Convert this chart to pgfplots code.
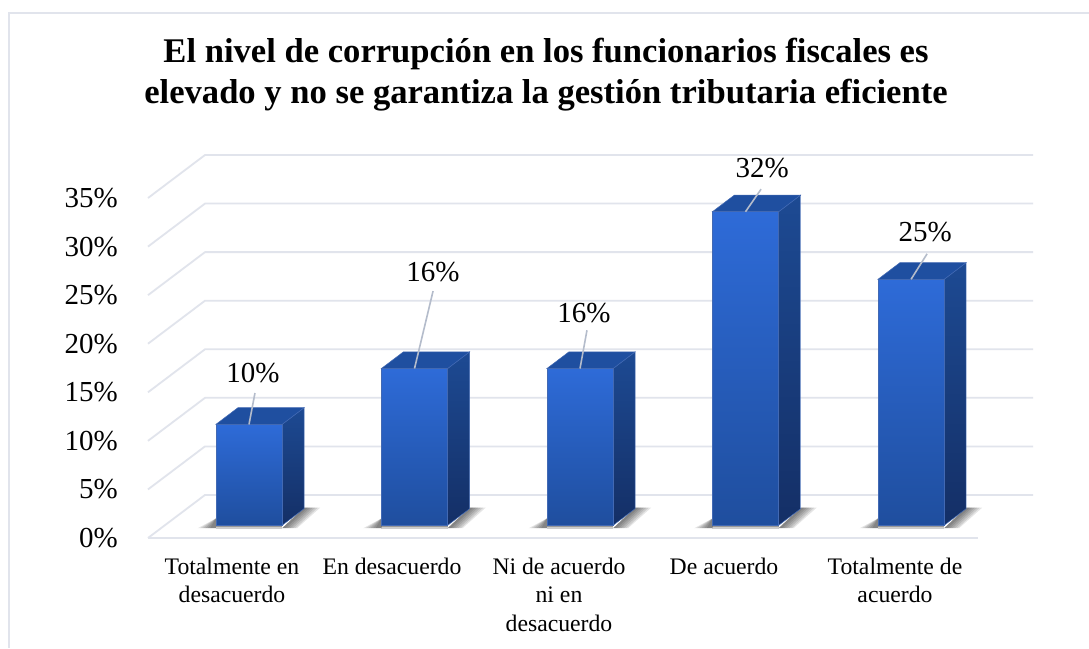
\documentclass[border=0pt]{standalone}
\usepackage{fontspec}
\setmainfont{Liberation Serif}
\usepackage{pgfplots}
\pgfplotsset{compat=1.18}
\definecolor{gridc}{HTML}{E1E4EC}
\definecolor{leader}{HTML}{B4BCCB}
\definecolor{fronttop}{HTML}{2E6BD8}
\definecolor{frontbot}{HTML}{1F4E9E}
\definecolor{sidetop}{HTML}{1D4A93}
\definecolor{sidebot}{HTML}{142F66}
\definecolor{topface}{HTML}{1F4FA0}
\definecolor{edge}{HTML}{4269B3}

% soft floor shadow, one layer: centre, reach to the right at the back, at the front, reach to the left
\newcommand{\shadelayer}[4]{%
  \pgfmathsetmacro\sl{#1-#4}%
  \pgfmathsetmacro\sra{#1+#2}%
  \pgfmathsetmacro\srb{#1+#3}%
  \pgfmathsetmacro\xl{#1-0.2}%
  \pgfmathsetmacro\xr{#1+0.2}%
  \pgfmathsetmacro\xb{#1+0.333}%
  \addplot[draw=none,fill=black,fill opacity=0.1] coordinates {(\xr,-0.3) (\xb,1.8) (\sra,1.8) (\srb,-0.3)} --cycle;
  \addplot[draw=none,fill=black,fill opacity=0.1] coordinates {(\sl,-0.3) (\xl,0.7) (\xl,-0.3)} --cycle;
}
% one 3D column: centre, value
\newcommand{\column}[2]{%
  \shadelayer{#1}{0.43}{0.29}{0.31}%
  \shadelayer{#1}{0.415}{0.28}{0.295}%
  \shadelayer{#1}{0.40}{0.265}{0.28}%
  \shadelayer{#1}{0.385}{0.25}{0.265}%
  \shadelayer{#1}{0.37}{0.235}{0.25}%
  \shadelayer{#1}{0.355}{0.22}{0.235}%
  \pgfmathsetmacro\xl{#1-0.2}%
  \pgfmathsetmacro\xr{#1+0.2}%
  \pgfmathsetmacro\xb{#1+0.333}%
  \pgfmathsetmacro\xal{#1-0.067}%
  \pgfmathsetmacro\vb{#2+1.7}%
  \addplot[draw=none,fill=black,fill opacity=0.2] coordinates {(\xl,-0.4) (\xr,-0.4) (\xr,0.1) (\xl,0.1)} --cycle;
  \addplot[draw=none,fill=black,fill opacity=0.25] coordinates {(\xl,-0.22) (\xr,-0.22) (\xr,0.1) (\xl,0.1)} --cycle;
  \addplot[draw=edge,line width=0.5pt,top color=sidetop,bottom color=sidebot] coordinates {(\xr,0) (\xb,1.7) (\xb,\vb) (\xr,#2)} --cycle;
  \addplot[draw=edge,line width=0.5pt,fill=topface] coordinates {(\xl,#2) (\xr,#2) (\xb,\vb) (\xal,\vb)} --cycle;
  \addplot[ybar,bar width=66pt,bar shift=0pt,draw=edge,line width=0.5pt,top color=fronttop,bottom color=frontbot] coordinates {(#1,#2)};
}
% back wall and side wall line for one tick value
\newcommand{\wall}[1]{%
  \pgfmathsetmacro\vb{#1+4.43}%
  \addplot[gridc,line width=1.8pt,line join=round] coordinates {(148,#1) (205,\vb) (1033,\vb)};
}

\begin{document}
\begin{tikzpicture}
  \useasboundingbox (0,0) rectangle (1089pt,648pt);
  \fill[white] (0,0) rectangle (1089pt,648pt);
  \draw[gridc,line width=1.6pt] (9pt,0pt) -- (9pt,635pt) -- (1089pt,635pt);

  \begin{axis}[
    at={(148pt,110pt)},anchor=south west,
    scale only axis,width=885pt,height=383pt,
    xmin=148,xmax=1033,ymin=0,ymax=39.43,
    axis line style={draw=none},
    major tick length=0pt,
    xtick=\empty,
    ytick={0,5,10,15,20,25,30,35},
    yticklabels={0\%,5\%,10\%,15\%,20\%,25\%,30\%,35\%},
    y tick label style={font=\fontsize{29}{33}\selectfont,inner sep=0pt,anchor=east,xshift=-30pt},
    clip=false,
  ]
    \wall{0}\wall{5}\wall{10}\wall{15}\wall{20}\wall{25}\wall{30}\wall{35}
    \addplot[gridc,line width=1.8pt] coordinates {(148,0) (978,0)};
  \end{axis}

  \begin{axis}[
    at={(148pt,110pt)},anchor=south west,
    scale only axis,width=885pt,height=383pt,
    xmin=-0.6103,xmax=4.737,ymin=-1.296,ymax=37.786,
    axis line style={draw=none},
    major tick length=0pt,
    ytick=\empty,
    xtick={-0.103,0.864,1.873,2.87,3.903},
    xticklabels={Totalmente en\\desacuerdo,En desacuerdo,Ni de acuerdo\\ni en\\desacuerdo,De acuerdo,Totalmente de\\acuerdo},
    x tick label style={font=\fontsize{23.7}{28.5}\selectfont,align=center,inner sep=0pt,anchor=north,yshift=-19.5pt},
    title={El nivel de corrupción en los funcionarios fiscales es\\elevado y no se garantiza la gestión tributaria eficiente},
    title style={at={(0.4497,1.1945)},anchor=center,align=center,inner sep=0pt,font=\bfseries\fontsize{34.6}{41}\selectfont},
    clip=false,
  ]
    \column{0}{10.3}
    \column{1}{16}
    \column{2}{16}
    \column{3}{32}
    \column{4}{25.1}
    \addplot[leader,line width=1.6pt] coordinates {(0,10.3) (0.036,13.5)};
    \addplot[leader,line width=1.6pt] coordinates {(1,16) (1.112,23.9)};
    \addplot[leader,line width=1.6pt] coordinates {(2,16) (2.042,19.9)};
    \addplot[leader,line width=1.6pt] coordinates {(3,32) (3.094,34.3)};
    \addplot[leader,line width=1.6pt] coordinates {(4,25.1) (4.097,27.7)};
    \node[font=\fontsize{29}{33}\selectfont,inner sep=0pt] at (axis cs:0.024,15.54) {10\%};
    \node[font=\fontsize{29}{33}\selectfont,inner sep=0pt] at (axis cs:1.112,25.85) {16\%};
    \node[font=\fontsize{29}{33}\selectfont,inner sep=0pt] at (axis cs:2.024,21.66) {16\%};
    \node[font=\fontsize{29}{33}\selectfont,inner sep=0pt] at (axis cs:3.10,36.46) {32\%};
    \node[font=\fontsize{29}{33}\selectfont,inner sep=0pt] at (axis cs:4.085,29.93) {25\%};
  \end{axis}
\end{tikzpicture}
\end{document}
